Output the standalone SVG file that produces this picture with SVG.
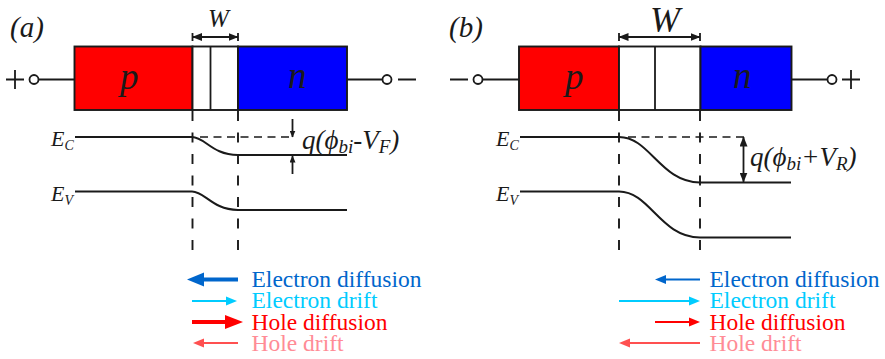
<svg xmlns="http://www.w3.org/2000/svg" width="885" height="359" viewBox="0 0 885 359">
<style>
text{font-family:"Liberation Serif","Times New Roman",serif}
.i{font-style:italic;fill:#1a1a1a}
.l{fill:none;stroke:#1a1a1a;stroke-width:1.8}
.b{fill:none;stroke:#1a1a1a;stroke-width:2}
.d{fill:none;stroke:#1a1a1a;stroke-width:1.9;stroke-dasharray:10 11.500}
.h{fill:none;stroke:#1a1a1a;stroke-width:1.7;stroke-dasharray:8 5.500}
.t{fill:#fff;stroke:#1a1a1a;stroke-width:1.8}
.r{stroke:#1a1a1a;stroke-width:1.900}
.leg{font-size:23.500px}
</style>
<defs>
<marker id="k" markerWidth="7" markerHeight="6" refX="6.500" refY="3" orient="auto-start-reverse" markerUnits="userSpaceOnUse"><path d="M0 0L7 3L0 6Z" fill="#1a1a1a"/></marker>
<marker id="k2" markerWidth="10" markerHeight="8" refX="9.500" refY="4" orient="auto-start-reverse" markerUnits="userSpaceOnUse"><path d="M0 0L10 4L0 8Z" fill="#1a1a1a"/></marker>
</defs>
<g id="panel-a">
<text class="i" x="10" y="37" font-size="29">(a)</text>
<text class="i" x="208" y="27" font-size="25">W</text>
<g id="a-device">
<rect class="r" x="74.500" y="46.500" width="118" height="63.500" fill="#f00"/>
<rect class="r" x="192.500" y="46.500" width="45.500" height="63.500" fill="#fff"/>
<rect class="r" x="238" y="46.500" width="109" height="63.500" fill="#00f"/>
<path class="l" d="M210.500 46.500V110"/>
<text class="i" x="120" y="89" font-size="37">p</text>
<text class="i" x="288" y="88" font-size="37">n</text>
</g>
<g id="a-terminals">
<path class="l" d="M39 79.500H74M347 79.500H382M6 79.500H24M15 70V89M398 79.500H416"/>
<circle class="t" cx="34" cy="79.500" r="4.500"/><circle class="t" cx="387" cy="79.500" r="4.500"/>
</g>
<g id="a-bands">
<path class="b" d="M75 137H192C205 137 212 155 238 155H347"/>
<path class="b" d="M75 191.500H192C205 191.500 212 209.500 238 210H347"/>
<text class="i" x="51" y="146" font-size="22">E<tspan font-size="14" dy="4">C</tspan></text>
<text class="i" x="51" y="201" font-size="22">E<tspan font-size="14" dy="4">V</tspan></text>
<text class="i" x="302" y="149" font-size="27">q(ϕ<tspan font-size="19" dy="4">bi</tspan><tspan dy="-4">-V</tspan><tspan font-size="19" dy="4">F</tspan><tspan dy="-4">)</tspan></text>
</g>
</g>
<g id="panel-b">
<text class="i" x="449" y="37" font-size="29">(b)</text>
<text class="i" x="650" y="32" font-size="36">W</text>
<g id="b-device">
<rect class="r" x="519" y="46.500" width="100" height="63.500" fill="#f00"/>
<rect class="r" x="619" y="46.500" width="81.500" height="63.500" fill="#fff"/>
<rect class="r" x="700.500" y="46.500" width="91" height="63.500" fill="#00f"/>
<path class="l" d="M655 46.500V110"/>
<text class="i" x="565" y="89" font-size="37">p</text>
<text class="i" x="733" y="88" font-size="37">n</text>
</g>
<g id="b-terminals">
<path class="l" d="M483 79.500H519M791.500 79.500H827M450 79.500H468M842 79.500H860M851 70V89"/>
<circle class="t" cx="478" cy="79.500" r="4.500"/><circle class="t" cx="832" cy="79.500" r="4.500"/>
</g>
<g id="b-bands">
<path class="b" d="M520 137H619C650 137 660 182 700 182.500H791"/>
<path class="b" d="M520 191.500H619C650 191.500 660 237 700 237.500H791"/>
<text class="i" x="496" y="146" font-size="22">E<tspan font-size="14" dy="4">C</tspan></text>
<text class="i" x="496" y="201" font-size="22">E<tspan font-size="14" dy="4">V</tspan></text>
<text class="i" x="750" y="166" font-size="27">q(ϕ<tspan font-size="19" dy="4">bi</tspan><tspan dy="-4">+V</tspan><tspan font-size="19" dy="4">R</tspan><tspan dy="-4">)</tspan></text>
</g>
</g>
<g id="connectors">
<path class="l" marker-start="url(#k2)" marker-end="url(#k2)" d="M192.500 37H238"/>
<path class="l" d="M192.500 33V41M238 33V41"/>
<path class="l" marker-start="url(#k2)" marker-end="url(#k2)" d="M619 37H700"/>
<path class="l" d="M619 33V41M700 33V41"/>
<path class="d" d="M192.500 111V251M238 111V251M619 111V251M700 111V251"/>
<path class="h" d="M200 137H290"/>
<path class="h" d="M628 137H745"/>
<path class="l" marker-end="url(#k)" d="M292.500 119V137"/>
<path class="l" marker-end="url(#k)" d="M292.500 174V156"/>
<path class="l" marker-start="url(#k2)" marker-end="url(#k2)" d="M743.500 137V182"/>
</g>
<g id="legend-a">
<path d="M238 279.500H200" stroke="#0066cc" stroke-width="4" fill="none"/><path d="M187 279.500L204 272.500V286.500Z" fill="#0066cc"/>
<path d="M192 301H228" stroke="#00ccff" stroke-width="2.200"/><path d="M237 301L226 296.500V305.500Z" fill="#00ccff"/>
<path d="M192 322H228" stroke="#f00" stroke-width="4"/><path d="M243 322L225 315V329Z" fill="#f00"/>
<path d="M238 343H200" stroke="#ff5050" stroke-width="2.200"/><path d="M193 343L204 338.500V347.500Z" fill="#ff5050"/>
<text class="leg" x="251.500" y="287" fill="#0066cc">Electron diffusion</text>
<text class="leg" x="251.500" y="308" fill="#00ccff">Electron drift</text>
<text class="leg" x="251.500" y="330" fill="#f00">Hole diffusion</text>
<text class="leg" x="251.500" y="351" fill="#ff8c96">Hole drift</text>
</g>
<g id="legend-b">
<path d="M700 279.500H662" stroke="#0066cc" stroke-width="2.200"/><path d="M655 279.500L666 275V284Z" fill="#0066cc"/>
<path d="M619 301H692" stroke="#00ccff" stroke-width="2.200"/><path d="M700 301L689 296.500V305.500Z" fill="#00ccff"/>
<path d="M655 322H692" stroke="#f00" stroke-width="2.200"/><path d="M700 322L689 317.500V326.500Z" fill="#f00"/>
<path d="M700 343H626" stroke="#ff5050" stroke-width="2.200"/><path d="M619 343L630 338.500V347.500Z" fill="#ff5050"/>
<text class="leg" x="709.500" y="287" fill="#0066cc">Electron diffusion</text>
<text class="leg" x="709.500" y="308" fill="#00ccff">Electron drift</text>
<text class="leg" x="709.500" y="330" fill="#f00">Hole diffusion</text>
<text class="leg" x="709.500" y="351" fill="#ff8c96">Hole drift</text>
</g>
</svg>
